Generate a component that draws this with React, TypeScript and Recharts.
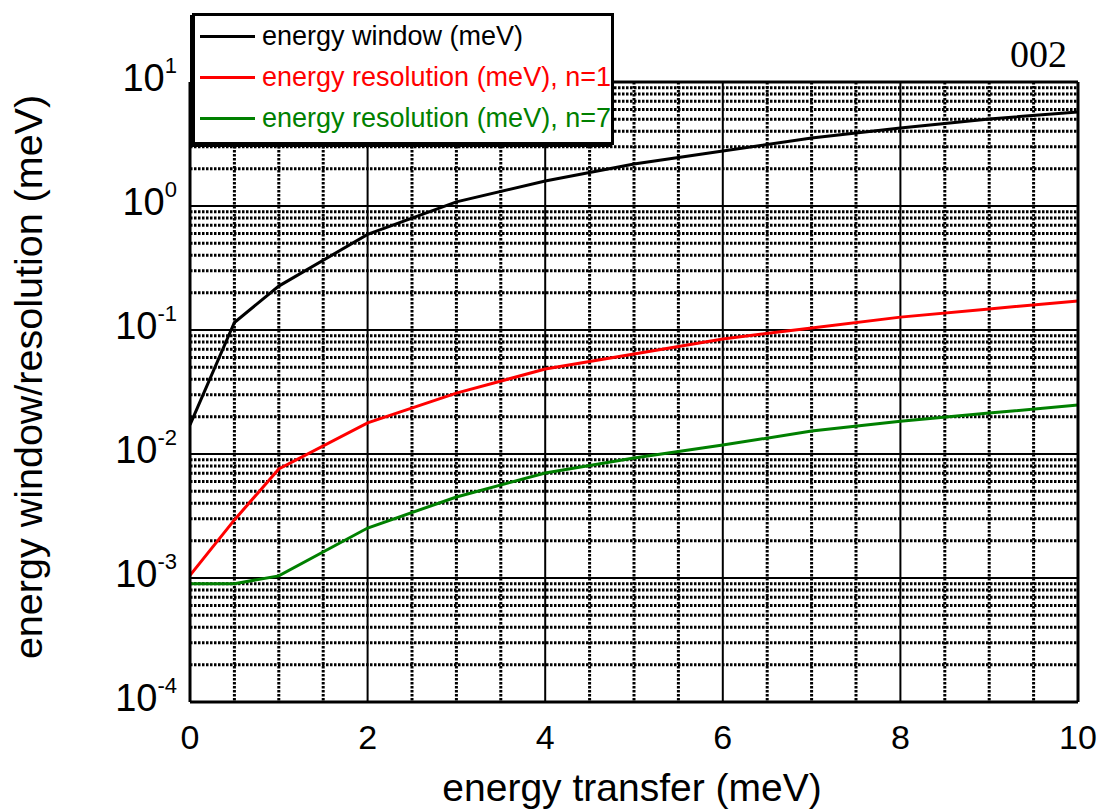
import React from "react";
import {
  LineChart,
  Line,
  XAxis,
  YAxis,
  CartesianGrid,
  Legend,
  Label,
} from "recharts";

// energy transfer (meV)
const energyTransfer = [0, 0.5, 1, 2, 3, 4, 5, 6, 7, 8, 9, 10];
const energyWindow = [0.0172, 0.115, 0.226, 0.59, 1.08, 1.59, 2.18, 2.78, 3.53, 4.26, 5.04, 5.73];
const resolutionN1 = [0.00105, 0.00294, 0.00757, 0.0178, 0.031, 0.0484, 0.064, 0.0846, 0.104, 0.127, 0.148, 0.171];
const resolutionN7 = [0.0009, 0.0009, 0.00104, 0.00253, 0.0045, 0.00703, 0.0093, 0.0118, 0.0153, 0.0184, 0.0214, 0.0248];

const seriesNames = [
  "energy window (meV)",
  "energy resolution (meV), n=1",
  "energy resolution (meV), n=7",
];
const seriesColors = ["#000000", "#ff0000", "#008000"];

const xTicks = [0, 2, 4, 6, 8, 10];
const xMinor = [0.5, 1, 1.5, 2.5, 3, 3.5, 4.5, 5, 5.5, 6.5, 7, 7.5, 8.5, 9, 9.5];
const yTicks = [1e-4, 1e-3, 1e-2, 1e-1, 1, 10];
const yMinor = [1e-4, 1e-3, 1e-2, 1e-1, 1].flatMap((d) =>
  [2, 3, 4, 5, 6, 7, 8, 9].map((k) => k * d)
);

const data = energyTransfer.map((x, i) => ({
  x,
  window: energyWindow[i],
  n1: resolutionN1[i],
  n7: resolutionN7[i],
}));

const FONT = "'Liberation Sans', Arial, sans-serif";

const YTick = ({ x, y, payload }: any) => {
  const exp = Math.round(Math.log10(payload.value));
  return (
    <text x={x} y={y + 9} textAnchor="end" fontSize={38} fill="#000" fontFamily={FONT}>
      <tspan>10</tspan>
      <tspan dy={-18} fontSize={22}>
        {exp}
      </tspan>
    </text>
  );
};

const XTick = ({ x, y, payload }: any) => (
  <text x={x} y={y + 47} textAnchor="middle" fontSize={34} fill="#000" fontFamily={FONT}>
    {payload.value}
  </text>
);

// legend keeps the series order rather than the sorted payload
const LegendBox = () => (
  <div
    style={{
      border: "3px solid #000",
      boxShadow: "-2px 2px 0 #000",
      background: "#fff",
      width: 416,
      height: 126,
      boxSizing: "content-box",
    }}
  >
    {seriesNames.map((name, i) => (
      <div key={name} style={{ display: "flex", alignItems: "center", height: 41 }}>
        <span
          style={{
            display: "inline-block",
            width: 55,
            height: 3,
            marginLeft: 5,
            marginRight: 7,
            background: seriesColors[i],
          }}
        />
        <span
          style={{ fontSize: 27, color: seriesColors[i], fontFamily: FONT, whiteSpace: "nowrap" }}
        >
          {name}
        </span>
      </div>
    ))}
  </div>
);

const minorLine = { stroke: "#000", strokeWidth: 2.5 };

export default function App() {
  return (
    <div
      style={{
        position: "absolute",
        left: 0,
        top: 0,
        width: 1101,
        height: 811,
        fontFamily: FONT,
        background: "#fff",
      }}
    >
      <LineChart
        width={1101}
        height={811}
        data={data}
        margin={{ top: 82, right: 23, left: 0, bottom: 0 }}
      >
        {/* minor grid */}
        <CartesianGrid
          horizontalValues={yMinor}
          verticalValues={xMinor}
          stroke="#000"
          strokeWidth={3}
          strokeDasharray="2.5 1.5"
        />
        {/* major grid */}
        <CartesianGrid
          horizontalValues={yTicks}
          verticalValues={xTicks}
          stroke="#000"
          strokeWidth={2}
        />

        <XAxis
          dataKey="x"
          type="number"
          domain={[0, 10]}
          ticks={xTicks}
          interval={0}
          allowDataOverflow
          height={109}
          tickSize={0}
          tickMargin={0}
          tick={<XTick />}
          axisLine={{ stroke: "#000", strokeWidth: 3 }}
        >
          <Label
            content={({ viewBox }: any) => (
              <text
                x={viewBox.x + viewBox.width / 2 - 2}
                y={viewBox.y + 99}
                textAnchor="middle"
                fontSize={39}
                fill="#000"
                fontFamily={FONT}
              >
                energy transfer (meV)
              </text>
            )}
          />
        </XAxis>
        <XAxis
          xAxisId="bottomTicks"
          type="number"
          domain={[0, 10]}
          ticks={xMinor}
          interval={0}
          mirror
          height={20}
          tickSize={8}
          tick={false}
          axisLine={false}
          tickLine={minorLine}
        />
        <XAxis
          xAxisId="top"
          orientation="top"
          type="number"
          domain={[0, 10]}
          ticks={xMinor}
          interval={0}
          mirror
          height={20}
          tickSize={8}
          tick={false}
          axisLine={{ stroke: "#000", strokeWidth: 3 }}
          tickLine={minorLine}
        />

        <YAxis
          scale="log"
          domain={[1e-4, 10]}
          ticks={yTicks}
          interval={0}
          allowDataOverflow
          width={190}
          tickSize={0}
          tickMargin={13}
          tick={<YTick />}
          axisLine={{ stroke: "#000", strokeWidth: 3 }}
        >
          <Label
            content={() => {
              const cx = 42;
              const cy = 377;
              return (
                <text
                  x={cx}
                  y={cy}
                  transform={`rotate(-90, ${cx}, ${cy})`}
                  textAnchor="middle"
                  fontSize={39.5}
                  fill="#000"
                  fontFamily={FONT}
                >
                  energy window/resolution (meV)
                </text>
              );
            }}
          />
        </YAxis>
        <YAxis
          yAxisId="leftTicks"
          scale="log"
          domain={[1e-4, 10]}
          ticks={yMinor}
          interval={0}
          mirror
          width={20}
          tickSize={8}
          tick={false}
          axisLine={false}
          tickLine={minorLine}
        />
        <YAxis
          yAxisId="right"
          orientation="right"
          scale="log"
          domain={[1e-4, 10]}
          ticks={yMinor}
          interval={0}
          mirror
          width={20}
          tickSize={8}
          tick={false}
          axisLine={{ stroke: "#000", strokeWidth: 3 }}
          tickLine={minorLine}
        />

        <Line
          type="linear"
          dataKey="window"
          name={seriesNames[0]}
          stroke={seriesColors[0]}
          strokeWidth={3}
          dot={false}
          isAnimationActive={false}
        />
        <Line
          type="linear"
          dataKey="n1"
          name={seriesNames[1]}
          stroke={seriesColors[1]}
          strokeWidth={3}
          dot={false}
          isAnimationActive={false}
        />
        <Line
          type="linear"
          dataKey="n7"
          name={seriesNames[2]}
          stroke={seriesColors[2]}
          strokeWidth={3}
          dot={false}
          isAnimationActive={false}
        />

        <Legend
          layout="vertical"
          verticalAlign="middle"
          align="center"
          content={<LegendBox />}
          wrapperStyle={{ left: 192, top: 13, width: "auto" }}
        />
      </LineChart>

      <div
        style={{
          position: "absolute",
          left: 1010,
          top: 35,
          fontFamily: "'Liberation Serif', 'Times New Roman', serif",
          fontSize: 38,
          lineHeight: 1,
          color: "#000",
        }}
      >
        002
      </div>
    </div>
  );
}
